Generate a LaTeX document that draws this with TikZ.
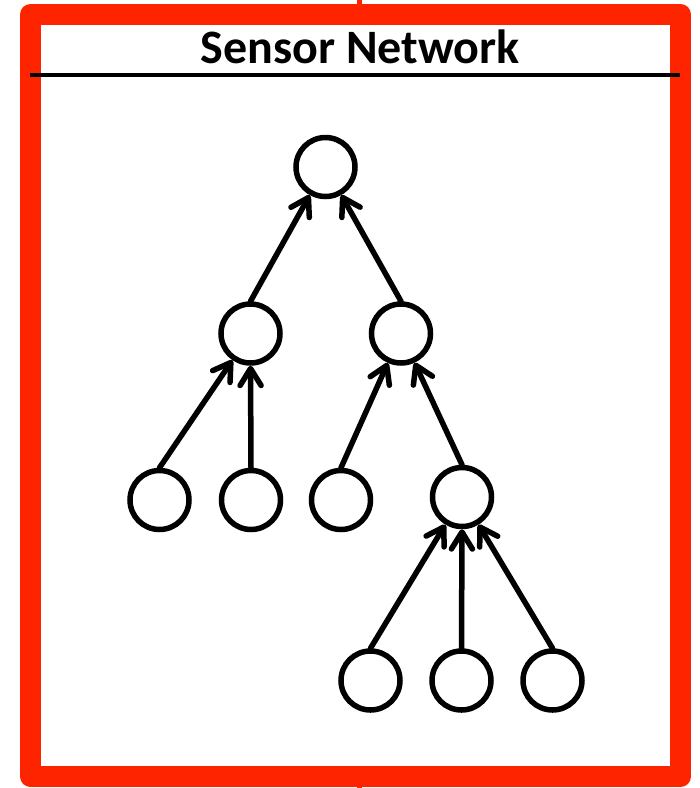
\documentclass[tikz,border=0pt]{standalone}
\usepackage{fontspec}
\setmainfont{Carlito}
\usetikzlibrary{arrows.meta}
\definecolor{framered}{RGB}{255,36,0}
\tikzset{
  sensor/.style={circle, draw=black, line width=5.5pt, minimum size=59pt, inner sep=0pt, fill=white},
  link/.style={line width=5.5pt, line cap=round,
    -{Straight Barb[length=17pt, width=21pt, line cap=round, line join=round]}},
}
\begin{document}
\begin{tikzpicture}[x=1pt, y=-1pt]
  \useasboundingbox (0,0) rectangle (700,788);
  % connector stubs above and below the frame
  \draw[framered, line width=5pt] (359.5,0) -- (359.5,20);
  \draw[framered, line width=5pt] (359.5,770) -- (359.5,788);
  % red frame
  \draw[framered, line width=21pt, line join=round, fill=white]
    (30.5,14.5) rectangle (680.5,776.5);
  % title and rule
  \node[font=\bfseries\fontsize{48}{50}\selectfont, anchor=base] (title) at (360,63) {Sensor Network};
  \draw[line width=4pt] (30,75) -- (680,75);

  % sensors
  \node[sensor] (root) at (325.5,167) {};
  \node[sensor] (a) at (250.5,333.5) {};
  \node[sensor] (b) at (401,333.5) {};
  \node[sensor] (a1) at (159.5,500) {};
  \node[sensor] (a2) at (251,500) {};
  \node[sensor] (b1) at (341,500) {};
  \node[sensor] (b2) at (462,497) {};
  \node[sensor] (c1) at (370.5,680.5) {};
  \node[sensor] (c2) at (461.5,680.5) {};
  \node[sensor] (c3) at (552.5,680.5) {};

  % links toward the root
  \draw[link] (a.north) -- (root);
  \draw[link] (b.north) -- (root);
  \draw[link] (a1.north) -- (a);
  \draw[link] (a2.north) -- (a.south);
  \draw[link] (b1.north) -- (b);
  \draw[link] (b2.north) -- (b);
  \draw[link] (c1.north) -- (b2);
  \draw[link] (c2.north) -- (b2.south);
  \draw[link] (c3.north) -- (b2);
\end{tikzpicture}
\end{document}
